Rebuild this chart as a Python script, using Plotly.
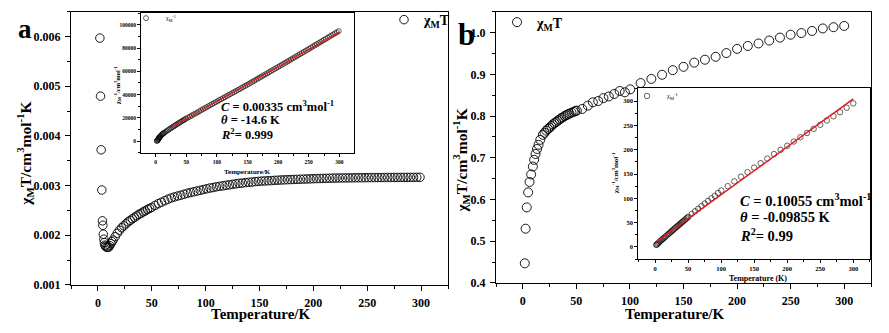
import plotly.graph_objects as go

# ---------------- data ----------------
# Panel a: chi_M*T vs T
temp_a = [1.8, 2.4, 3.0, 3.6, 4.2, 4.6, 5.0, 5.5, 6.0, 6.5, 7.0, 8.0, 9.0, 10.0,
          11, 12, 13, 14, 16, 18, 20, 22, 24, 26, 28, 30, 32, 34, 36, 38, 40, 42, 44, 46, 48,
          50, 53, 56, 59, 62, 65, 68, 71, 74, 77, 80, 83, 86, 89, 92, 95, 98, 101, 104, 107,
          110, 113, 116, 119, 122, 125, 128, 131, 134, 137, 140, 143, 146, 149, 152, 155, 158,
          161, 164, 167, 170, 173, 176, 179, 182, 185, 188, 191, 194, 197, 200, 203, 206, 209,
          212, 215, 218, 221, 224, 227, 230, 233, 236, 239, 242, 245, 248, 251, 254, 257, 260,
          263, 266, 269, 272, 275, 278, 281, 284, 287, 290, 293, 296, 299]
chiT_a = [0.00597, 0.00480, 0.00372, 0.00291, 0.00229, 0.00220, 0.00202, 0.00192, 0.00185,
          0.00180, 0.00178, 0.00176, 0.001755, 0.00176,
          0.00179, 0.00183, 0.00187, 0.00190, 0.00197, 0.00204, 0.00210, 0.00215, 0.00219,
          0.00223, 0.00227, 0.00230, 0.00233, 0.00236, 0.00239, 0.00242, 0.00244, 0.00247,
          0.00249, 0.00252, 0.00254,
          0.002560, 0.002600, 0.002635, 0.002665, 0.002695, 0.002725, 0.002750, 0.002770,
          0.002790, 0.002805, 0.002825, 0.002845, 0.002860, 0.002875, 0.002890, 0.002905,
          0.002920, 0.002935, 0.002950, 0.002960, 0.002975, 0.002985, 0.002995, 0.003005,
          0.003015, 0.003025, 0.003035, 0.003045, 0.003050, 0.003060, 0.003065, 0.003070,
          0.003080, 0.003085, 0.003090, 0.003093, 0.003097, 0.003100, 0.003105, 0.003108,
          0.003112, 0.003115, 0.003118, 0.003120, 0.003123, 0.003125, 0.003128, 0.003130,
          0.003133, 0.003135, 0.003138, 0.003140, 0.003142, 0.003144, 0.003146, 0.003148,
          0.003150, 0.003151, 0.003152, 0.003153, 0.003154, 0.003155, 0.003156, 0.003157,
          0.003158, 0.003158, 0.003159, 0.003160, 0.003160, 0.003161, 0.003161, 0.003162,
          0.003162, 0.003163, 0.003163, 0.003163, 0.003164, 0.003164, 0.003164, 0.003165,
          0.003165, 0.003165, 0.003166, 0.003166]

# Panel b: chi_M*T vs T
temp_b = [1.9, 2.6, 3.7, 5.0, 6.3, 7.8, 9.4, 10.6, 11.9, 13.3, 14.7, 16.3, 18.7, 20.3, 21.9,
          23.5, 25, 26.5, 28, 29.6, 31.2, 32.8, 34.3, 35.9, 37.4, 39, 40.6, 42.1, 43.6, 45.5,
          47.4, 49, 50.5, 55.5, 60.7, 65.4, 70.4, 75.3, 80.3, 85.4, 90.4, 95.3, 100.3,
          110, 120, 130, 140, 150, 160, 170, 180, 190, 200, 210, 220, 230, 240, 250, 260,
          270, 280, 290, 300]
chiT_b = [0.447, 0.530, 0.581, 0.617, 0.642, 0.660, 0.679, 0.695, 0.709, 0.721, 0.731, 0.743,
          0.755, 0.760, 0.765, 0.769, 0.772, 0.776, 0.780, 0.783, 0.786, 0.789, 0.792, 0.795,
          0.797, 0.800, 0.802, 0.804, 0.806, 0.808, 0.810, 0.812, 0.813, 0.817, 0.825, 0.833,
          0.836, 0.843, 0.847, 0.853, 0.860, 0.857, 0.864, 0.879, 0.889, 0.899, 0.910, 0.918,
          0.928, 0.935, 0.942, 0.951, 0.961, 0.968, 0.974, 0.981, 0.988, 0.995, 0.999, 1.004,
          1.010, 1.013, 1.016]

# Inset data: inverse susceptibility chi_M^-1 = T / (chi_M T)
inv_a = [t / c for t, c in zip(temp_a, chiT_a)]
inv_b = [t / c for t, c in zip(temp_b, chiT_b)]

# Curie-Weiss fit lines (end points)
fit_a_T = [25, 300]
fit_a_inv = [11800, 93600]
fit_b_T = [2, 300]
fit_b_inv = [11.0, 304.5]

fit_a_text = ["<i>C</i> = 0.00335 cm<sup>3</sup>mol<sup>-1</sup>",
              "<i>θ</i> = -14.6 K",
              "<i>R</i><sup>2</sup>= 0.999"]
fit_b_text = ["<i>C</i> = 0.10055 cm<sup>3</sup>mol<sup>-1</sup>",
              "<i>θ</i> = -0.09855 K",
              "<i>R</i><sup>2</sup>= 0.99"]

W, H = 889, 333
FONT = "Liberation Serif"


def px(x):
    return x / W


def py(y):
    return 1 - y / H


fig = go.Figure()

circ = dict(symbol="circle-open", color="black")

fig.add_trace(go.Scatter(x=temp_a, y=chiT_a, mode="markers", xaxis="x", yaxis="y",
                         name="<b>χ<sub>M</sub>T</b>", legend="legend",
                         marker=dict(size=8.5, line=dict(width=0.9), **circ)))
fig.add_trace(go.Scatter(x=temp_b, y=chiT_b, mode="markers", xaxis="x2", yaxis="y2",
                         name="<b>χ<sub>M</sub>T</b>", legend="legend2",
                         marker=dict(size=9, line=dict(width=0.9), **circ)))
fig.add_trace(go.Scatter(x=temp_a, y=inv_a, mode="markers", xaxis="x3", yaxis="y3",
                         name="χ<sub>M</sub><sup>-1</sup>", legend="legend3",
                         marker=dict(size=5, line=dict(width=0.6), **circ)))
fig.add_trace(go.Scatter(x=fit_a_T, y=fit_a_inv, mode="lines", xaxis="x3", yaxis="y3",
                         showlegend=False, line=dict(color="#e8191c", width=1.3)))
fig.add_trace(go.Scatter(x=temp_b, y=inv_b, mode="markers", xaxis="x4", yaxis="y4",
                         name="χ<sub>M</sub><sup>-1</sup>", legend="legend4",
                         marker=dict(size=5.5, line=dict(width=0.6), **circ)))
fig.add_trace(go.Scatter(x=fit_b_T, y=fit_b_inv, mode="lines", xaxis="x4", yaxis="y4",
                         showlegend=False, line=dict(color="#e8191c", width=1.5)))


def axis(domain, rng, dtick, minor, fsize, anchor, lw=1.2, fmt=None, tlen=5, mlen=3,
         standoff=None):
    d = dict(domain=domain, range=rng, dtick=dtick, tick0=0, anchor=anchor,
             showline=True, linecolor="black", linewidth=lw, mirror=True,
             ticks="outside", ticklen=tlen, tickwidth=1, tickcolor="black",
             minor=dict(ticks="outside", ticklen=mlen, dtick=minor, tick0=0,
                        tickcolor="black", tickwidth=1),
             showgrid=False, zeroline=False,
             tickfont=dict(family=FONT, size=fsize, color="black", weight="bold"))
    if fmt:
        d["tickformat"] = fmt
    if standoff is not None:
        d["ticklabelstandoff"] = standoff
    return d


layout = dict(
    width=W, height=H, margin=dict(l=0, r=0, t=0, b=0),
    paper_bgcolor="white", plot_bgcolor="white",
    xaxis=axis([px(71), px(448)], [-25, 325], 50, 25, 12, "y", standoff=2),
    yaxis=axis([py(291), py(12)], [0.001, 0.0065], 0.001, 0.0005, 12, "x", fmt=".3f",
               standoff=2),
    xaxis2=axis([px(496), px(871)], [-25, 325], 50, 25, 12, "y2", standoff=2),
    yaxis2=axis([py(289), py(12)], [0.4, 1.05], 0.1, 0.05, 12, "x2", fmt=".1f",
                standoff=2),
    xaxis3=axis([px(141), px(354)], [-24, 324], 50, 25, 5.5, "y3", lw=1, tlen=3, mlen=2),
    yaxis3=axis([py(156.7), py(13.3)], [-10400, 110000], 20000, 10000, 5.5, "x3", lw=1,
                fmt="d", tlen=3, mlen=2),
    xaxis4=axis([px(638.3), px(870)], [-25.3, 325.3], 50, 25, 6.5, "y4", lw=1, tlen=3,
                mlen=2),
    yaxis4=axis([py(265), py(90)], [-25.6, 326.8], 50, 25, 6.5, "x4", lw=1, tlen=3, mlen=2),
    showlegend=True,
)

leg_common = dict(bgcolor="rgba(0,0,0,0)", borderwidth=0, xanchor="left", yanchor="middle",
                  itemwidth=30)
layout["legend"] = dict(x=px(384), y=py(20.5),
                        font=dict(family=FONT, size=14, color="black"), **leg_common)
layout["legend2"] = dict(x=px(497), y=py(23),
                         font=dict(family=FONT, size=14, color="black"), **leg_common)
layout["legend3"] = dict(x=px(126), y=py(18.5),
                         font=dict(family=FONT, size=6, color="black"), **leg_common)
layout["legend4"] = dict(x=px(627), y=py(98),
                         font=dict(family=FONT, size=6.5, color="black"), **leg_common)

fig.update_layout(**layout)

ann = []


def add_text(text, x, y, size, angle=0, bold=True, xanchor="center"):
    ann.append(dict(text=text, x=px(x), y=py(y), xref="paper", yref="paper",
                    showarrow=False, textangle=angle, xanchor=xanchor, yanchor="middle",
                    font=dict(family=FONT, size=size, color="black",
                              weight="bold" if bold else "normal")))


# panel letters
add_text("a", 24.5, 30, 27)
add_text("b", 466, 35, 31)
# main axis titles
add_text("Temperature/K", 260, 321, 15)
add_text("Temperature/K", 674.5, 321, 15)
add_text("χ<sub>M</sub>T/cm<sup>3</sup>mol<sup>-1</sup>K", 25, 157, 15.5, angle=-90)
add_text("χ<sub>M</sub>T/cm<sup>3</sup>mol<sup>-1</sup>K", 461, 164, 15.5, angle=-90)
# inset axis titles
add_text("Temperature/K", 247.5, 176, 7)
add_text("Temperature (K)", 758, 284, 8)
add_text("χ<sub>M</sub><sup>-1</sup>/cm<sup>3</sup>mol<sup>-1</sup>", 117, 88, 6.5, angle=-90)
add_text("χ<sub>M</sub><sup>-1</sup>/cm<sup>3</sup>mol<sup>-1</sup>", 615, 177, 7, angle=-90)
# fit results
for t, yy in zip(fit_a_text, [108, 122.5, 137]):
    add_text(t, 219, yy, 12.5, xanchor="left")
for t, yy in zip(fit_b_text, [204, 221.5, 240]):
    add_text(t, 737.5, yy, 14.5, xanchor="left")

fig.update_layout(annotations=ann)
fig.write_html("out.html")
